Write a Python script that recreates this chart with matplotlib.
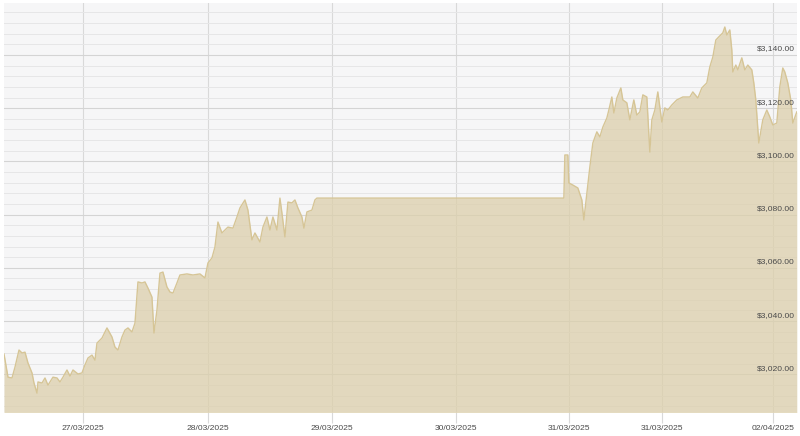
import numpy as np
import matplotlib
matplotlib.use("Agg")
import matplotlib.pyplot as plt
from matplotlib.ticker import MultipleLocator
import matplotlib.transforms as mtransforms

# sample position along the (trading-time) axis, and spot price in USD
t = [0, 4, 8, 11, 15, 18, 21, 24, 28, 30, 33, 34, 38, 41, 44, 49, 53, 56, 59, 63,
     66, 69, 74, 78, 81, 84, 88, 91, 93, 98, 103, 108, 111, 114, 118, 121, 124, 128,
     131, 134, 138, 141, 144, 148, 150, 153, 156, 159, 163, 166, 169, 173, 176, 183,
     189, 196, 201, 204, 208, 211, 214, 218, 221, 224, 229, 233, 236, 241, 244, 248,
     251, 256, 259, 263, 266, 269, 273, 276, 278, 281, 284, 288, 291, 294, 298, 300,
     303, 308, 311, 313, 560, 561, 564, 565, 569, 574, 578, 580, 583, 586, 589, 593,
     596, 599, 603, 605, 608, 610, 613, 617, 619, 623, 626, 630, 633, 636, 639, 643,
     646, 648, 651, 654, 658, 661, 664, 668, 673, 679, 686, 689, 694, 698, 703, 706,
     709, 712, 715, 719, 721, 723, 726, 728, 729, 732, 734, 738, 741, 744, 748, 750,
     752, 755, 759, 763, 766, 769, 773, 776, 779, 781, 784, 787, 789, 793]
price = [3027.6, 3018.9, 3018.6, 3022.7, 3029.1, 3028.0, 3028.3, 3024.2, 3020.5,
         3016.7, 3012.9, 3017.1, 3016.7, 3018.6, 3015.9, 3018.9, 3018.6, 3017.1,
         3018.9, 3021.6, 3019.3, 3021.6, 3020.1, 3020.5, 3023.5, 3026.1, 3027.2,
         3025.3, 3031.7, 3033.6, 3037.4, 3034.0, 3030.2, 3029.1, 3034.0, 3036.6,
         3037.4, 3035.9, 3039.2, 3054.7, 3054.3, 3054.7, 3052.4, 3049.0, 3035.5,
         3044.1, 3058.0, 3058.4, 3052.8, 3050.9, 3050.5, 3054.3, 3057.3, 3057.7,
         3057.3, 3057.7, 3056.2, 3061.8, 3063.7, 3067.8, 3077.2, 3073.1, 3074.2,
         3075.3, 3074.9, 3079.1, 3082.5, 3085.5, 3081.7, 3070.5, 3073.1, 3069.7,
         3075.3, 3079.1, 3074.2, 3079.1, 3074.2, 3086.2, 3080.6, 3071.6, 3084.7,
         3084.4, 3085.5, 3082.5, 3079.1, 3074.9, 3081.0, 3081.7, 3085.5, 3086.2,
         3086.2, 3102.4, 3102.4, 3091.9, 3091.1, 3090.0, 3085.5, 3078.0, 3088.1,
         3097.9, 3106.9, 3111.1, 3109.2, 3112.9, 3116.3, 3119.3, 3124.2, 3118.2,
         3123.8, 3127.6, 3123.1, 3122.0, 3115.6, 3123.1, 3117.4, 3118.6, 3125.0,
         3124.2, 3103.5, 3115.6, 3119.3, 3126.1, 3114.8, 3120.1, 3119.3, 3121.2,
         3123.1, 3124.2, 3124.2, 3126.1, 3123.8, 3127.6, 3129.5, 3135.5, 3139.2,
         3145.6, 3146.8, 3148.3, 3150.5, 3147.5, 3149.4, 3141.9, 3133.6, 3136.2,
         3134.4, 3138.9, 3134.4, 3136.2, 3134.4, 3129.5, 3123.1, 3106.9, 3115.6,
         3119.3, 3116.7, 3113.7, 3114.4, 3128.0, 3135.1, 3133.6, 3129.5, 3123.1,
         3114.4, 3118.6]

tick_pos = [79, 204, 328, 452, 565, 658, 769]
tick_labels = ["27/03/2025", "28/03/2025", "29/03/2025", "30/03/2025",
               "31/03/2025", "31/03/2025", "02/04/2025"]
price_ticks = [3020, 3040, 3060, 3080, 3100, 3120, 3140]

LINE = "#d6c596"
FILL = "#dccfab"
FONT = ["Liberation Sans", "DejaVu Sans"]

fig = plt.figure(figsize=(8, 4.36), dpi=100)
ax = fig.add_axes([0.005, 0.055, 0.991, 0.938])
ax.set_facecolor("#f6f6f7")

ax.plot(t, price, color=LINE, linewidth=1.0, zorder=3)
ax.fill_between(t, price, 3000, color=FILL, alpha=0.75, linewidth=0, zorder=2)

ax.set_xlim(0, 793)
ax.set_ylim(3005.8, 3159.5)

# horizontal grid: major every $20, minor every $4
ax.yaxis.set_major_locator(MultipleLocator(20))
ax.yaxis.set_minor_locator(MultipleLocator(4))
ax.grid(axis="y", which="major", color="#d4d4d4", linewidth=0.8, zorder=1)
ax.grid(axis="y", which="minor", color="#e6e6e7", linewidth=0.7, zorder=1)
ax.tick_params(axis="y", which="both", left=False, right=False,
               labelleft=False, labelright=False)

ax.set_xticks(tick_pos)
ax.set_xticklabels(tick_labels, fontsize=6.1, color="#4a4a4a", family=FONT)
ax.grid(axis="x", color="#d9d9d9", linewidth=0.8, zorder=1)
ax.tick_params(axis="x", length=8, width=0.8, color="#d9d9d9", pad=1)

trans = mtransforms.blended_transform_factory(ax.transAxes, ax.transData)
for p in price_ticks:
    ax.text(0.997, p + 0.9, f"${p:,.2f}", transform=trans, ha="right",
            va="bottom", fontsize=6.1, color="#4a4a4a", family=FONT, zorder=4)

for s in ax.spines.values():
    s.set_visible(False)

plt.savefig("out.png", dpi=100)
plt.close()
